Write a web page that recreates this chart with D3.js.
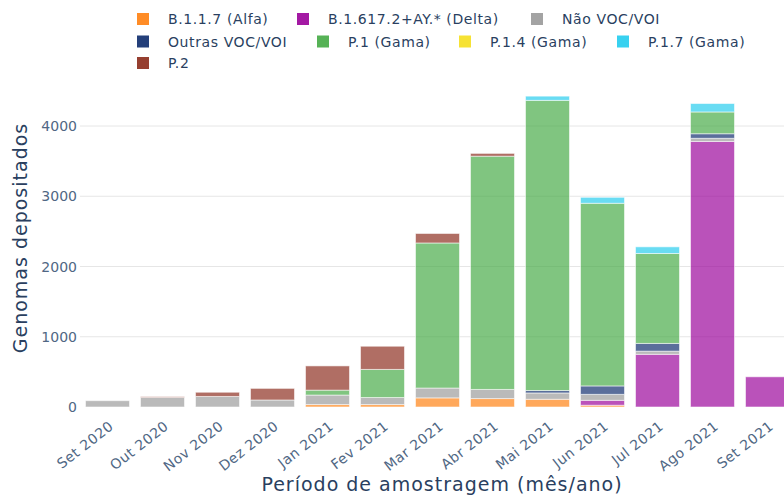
<!DOCTYPE html>
<html>
<head>
<meta charset="utf-8">
<script src="https://cdn.jsdelivr.net/npm/d3@7"></script>
<style>
  body { margin: 0; background: #fff; overflow: hidden; }
  svg { display: block; font-family: "DejaVu Sans", Verdana, sans-serif; }
</style>
</head>
<body>
<svg id="chart" width="784" height="496"></svg>
<script>
"use strict";
// months on the x axis
const months = ['Set 2020', 'Out 2020', 'Nov 2020', 'Dez 2020', 'Jan 2021', 'Fev 2021',
    'Mar 2021', 'Abr 2021', 'Mai 2021', 'Jun 2021', 'Jul 2021', 'Ago 2021', 'Set 2021'];
// one array per lineage, same order as months
const alfa   = [0, 0, 0, 0, 35, 35, 130, 120, 110, 25, 0, 0, 0];
const delta  = [0, 0, 0, 0, 0, 0, 0, 0, 0, 70, 750, 3780, 430];
const naoVoc = [90, 135, 150, 100, 135, 100, 140, 130, 90, 85, 45, 45, 0];
const outras = [0, 0, 0, 0, 0, 0, 0, 0, 35, 120, 110, 65, 0];
const gama   = [0, 0, 0, 0, 70, 400, 2065, 3320, 4130, 2600, 1280, 310, 0];
const p14    = [0, 0, 0, 0, 0, 0, 0, 0, 0, 0, 0, 0, 0];
const p17    = [0, 0, 0, 0, 0, 0, 0, 0, 60, 85, 95, 120, 0];
const p2     = [0, 12, 60, 165, 345, 330, 135, 40, 0, 0, 0, 0, 0];
const yTicks = [0, 1000, 2000, 3000, 4000];

const series = [
    { name: 'B.1.1.7 (Alfa)', values: alfa, color: '#ff7f0e' },
    { name: 'B.1.617.2+AY.* (Delta)', values: delta, color: '#990099' },
    { name: 'Não VOC/VOI', values: naoVoc, color: '#999999' },
    { name: 'Outras VOC/VOI', values: outras, color: '#0c2a6b' },
    { name: 'P.1 (Gama)', values: gama, color: '#44aa44' },
    { name: 'P.1.4 (Gama)', values: p14, color: '#f5df1e' },
    { name: 'P.1.7 (Gama)', values: p17, color: '#22ccee' },
    { name: 'P.2', values: p2, color: '#8b2a1a' }
];

const svg = d3.select('#chart');
const textColor = '#2a3f5f';
const tickColor = '#506784';

const x = d3.scaleBand()
    .domain(months)
    .range([80, 795])
    .paddingInner(0.2)
    .paddingOuter(0.1);
const y = d3.scaleLinear()
    .domain([0, 4000])
    .range([407, 126]);

// gridlines + y tick labels
const grid = svg.append('g');
grid.selectAll('line')
    .data(yTicks.filter(d => d > 0))
    .enter()
    .append('line')
    .attr('x1', 80).attr('x2', 784)
    .attr('y1', d => y(d)).attr('y2', d => y(d))
    .attr('stroke', '#e6e6e6')
    .attr('stroke-width', 1);
grid.selectAll('text')
    .data(yTicks)
    .enter()
    .append('text')
    .attr('x', 77)
    .attr('y', d => y(d) + 5)
    .attr('text-anchor', 'end')
    .attr('font-size', '14px')
    .attr('fill', tickColor)
    .text(d => d);

// stacked bars
const table = months.map((m, i) => {
    const row = { month: m };
    series.forEach(s => { row[s.name] = s.values[i]; });
    return row;
});
const stack = d3.stack().keys(series.map(s => s.name));
const layers = stack(table);

svg.append('g')
    .selectAll('g')
    .data(layers)
    .enter()
    .append('g')
    .attr('fill', (d, i) => series[i].color)
    .selectAll('rect')
    .data(d => d.filter(p => p[1] > p[0]))
    .enter()
    .append('rect')
    .attr('x', d => x(d.data.month))
    .attr('width', x.bandwidth())
    .attr('y', d => y(d[1]))
    .attr('height', d => y(d[0]) - y(d[1]))
    .attr('fill-opacity', 0.68)
    .attr('stroke', 'rgba(255,255,255,0.55)')
    .attr('stroke-width', 1);

// x tick labels
svg.append('g')
    .selectAll('text')
    .data(months)
    .enter()
    .append('text')
    .attr('transform', d => `translate(${x(d) + x.bandwidth() / 2 + 7},${428}) rotate(-38)`)
    .attr('text-anchor', 'end')
    .attr('font-size', '14px')
    .attr('letter-spacing', '0.5px')
    .attr('fill', tickColor)
    .text(d => d);

// axis titles
svg.append('text')
    .attr('transform', 'translate(27,238) rotate(-90)')
    .attr('text-anchor', 'middle')
    .attr('font-size', '19px')
    .attr('letter-spacing', '1px')
    .attr('fill', textColor)
    .text('Genomas depositados');
svg.append('text')
    .attr('x', 442)
    .attr('y', 491)
    .attr('text-anchor', 'middle')
    .attr('font-size', '19px')
    .attr('letter-spacing', '1px')
    .attr('fill', textColor)
    .text('Período de amostragem (mês/ano)');

// legend
const legendPos = [[137, 19], [297, 19], [531, 19], [137, 41.5], [317, 41.5], [459, 41.5], [617, 41.5], [137, 63]];
const legend = svg.append('g')
    .selectAll('g')
    .data(series)
    .enter()
    .append('g')
    .attr('transform', (d, i) => `translate(${legendPos[i][0]},${legendPos[i][1]})`);
legend.append('rect')
    .attr('x', 0).attr('y', -6)
    .attr('width', 12).attr('height', 12)
    .attr('fill', d => d.color)
    .attr('fill-opacity', 0.9);
legend.append('text')
    .attr('x', 31)
    .attr('y', 5)
    .attr('font-size', '14px')
    .attr('letter-spacing', '0.6px')
    .attr('fill', textColor)
    .text(d => d.name);
</script>
</body>
</html>
